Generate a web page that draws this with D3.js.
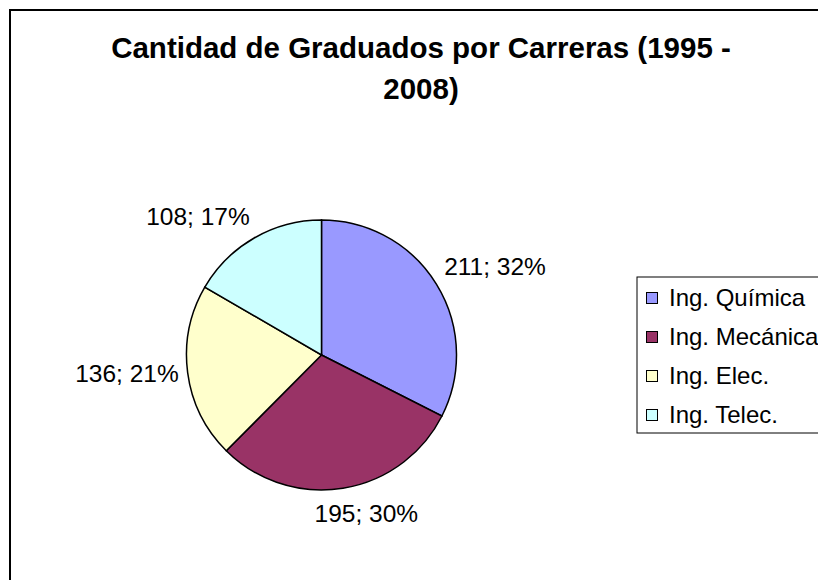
<!DOCTYPE html>
<html lang="es">
<head>
<meta charset="UTF-8">
<title>Cantidad de Graduados por Carreras</title>
<style>
    body { margin: 0; background: #fff; }
    text { font-family: 'Liberation Sans', Arial, sans-serif; fill: #000; }
</style>
</head>
<body>
<script src="https://d3js.org/d3.v7.min.js"></script>
<script>

    const careers = ['Ing. Química', 'Ing. Mecánica', 'Ing. Elec.', 'Ing. Telec.'];
    const graduates = [211, 195, 136, 108];
    const colours = ['#9999FF', '#993366', '#FFFFCC', '#CCFFFF'];
    const titleLines = ['Cantidad de Graduados por Carreras (1995 -', '2008)'];

    const size = {'width': 818, 'height': 580};
    const pie = {'cx': 321.5, 'cy': 355, 'r': 135};

    let svg = d3.select('body').append('svg')
        .attr('width', size.width)
        .attr('height', size.height);

    // chart frame runs off the right and bottom edges
    svg.append('rect')
        .attr('x', 10)
        .attr('y', 10)
        .attr('width', 900)
        .attr('height', 700)
        .style('fill', '#fff')
        .style('stroke', '#000')
        .style('stroke-width', 2);

    svg.append('g').selectAll('text')
        .data(titleLines)
        .enter().append('text')
        .attr('x', 421)
        .attr('y', function(d, i) { return 58 + i*41; })
        .attr('text-anchor', 'middle')
        .style('font-size', '29.5px')
        .style('font-weight', 'bold')
        .text(function(d) { return d; });

    const total = d3.sum(graduates);
    const slices = d3.pie().sort(null)(graduates);
    const arc = d3.arc().innerRadius(0).outerRadius(pie.r);

    let chart = svg.append('g')
        .attr('transform', 'translate(' + pie.cx + ',' + pie.cy + ')');

    chart.selectAll('path')
        .data(slices)
        .enter().append('path')
        .attr('d', arc)
        .style('fill', function(d, i) { return colours[i]; })
        .style('stroke', '#000')
        .style('stroke-width', 1.5);

    // labels outside each slice, pushed away from the pie
    const labelGap = 9;
    chart.selectAll('text')
        .data(slices)
        .enter().append('text')
        .style('font-size', '24.5px')
        .text(function(d) { return d.data + '; ' + Math.round(d.data / total * 100) + '%'; })
        .each(function(d) {
            let a = (d.startAngle + d.endAngle) / 2;
            let sx = Math.sin(a), sy = -Math.cos(a);
            let ax = sx * (pie.r + labelGap), ay = sy * (pie.r + labelGap);
            let anchor = Math.abs(sx) < 0.3 ? 'middle' : (sx > 0 ? 'start' : 'end');
            let dy = Math.abs(sy) < 0.3 ? 8 : (sy > 0 ? 25 : -5);
            if (anchor === 'middle') ax += 22;
            d3.select(this)
                .attr('x', ax)
                .attr('y', ay + dy)
                .attr('text-anchor', anchor);
        });

    // legend
    let legend = svg.append('g')
        .attr('transform', 'translate(637,277)');

    legend.append('rect')
        .attr('x', 0)
        .attr('y', 0)
        .attr('width', 300)
        .attr('height', 156)
        .style('fill', '#fff')
        .style('stroke', '#000')
        .style('stroke-width', 1);

    let rows = legend.selectAll('g')
        .data(careers)
        .enter().append('g')
        .attr('transform', function(d, i) { return 'translate(0,' + (21 + i*39) + ')'; });

    rows.append('rect')
        .attr('x', 9.5)
        .attr('y', -5.5)
        .attr('width', 11)
        .attr('height', 11)
        .style('fill', function(d, i) { return colours[i]; })
        .style('stroke', '#000')
        .style('stroke-width', 1);

    rows.append('text')
        .attr('x', 32)
        .attr('y', 8)
        .style('font-size', '24px')
        .text(function(d) { return d; });

</script>
</body>
</html>
